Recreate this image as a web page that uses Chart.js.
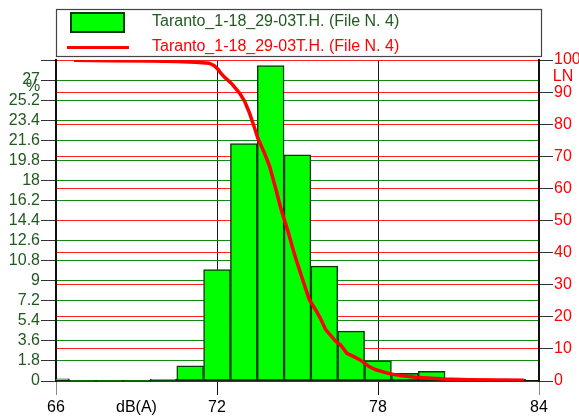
<!DOCTYPE html>
<html>
<head>
<meta charset="utf-8">
<script src="https://cdn.jsdelivr.net/npm/chart.js@4"></script>
<style>
  html, body { margin: 0; padding: 0; background: #ffffff; }
  #wrap { width: 579px; height: 417px; }
</style>
</head>
<body>
<div id="wrap"><canvas id="chart" width="579" height="417"></canvas></div>
<script>
// Measurement run label (shared by histogram and cumulative curve)
const seriesLabel = 'Taranto_1-18_29-03T.H. (File N. 4)';

// Histogram: 1 dB classes centred on each level, share of time in %
const binLevels  = [66, 67, 68, 69, 70, 71, 72, 73, 74, 75, 76, 77, 78, 79, 80, 81, 82, 83];
const binPercent = [0.2, 0.05, 0.05, 0.05, 0.15, 1.35, 10.0, 21.3, 28.3, 20.3, 10.3, 4.47, 1.8, 0.68, 0.87, 0.05, 0.15, 0.18];

// Cumulative exceedance curve LN (% of time above level)
const lnLevels  = [66.67, 68.0, 69.5, 70.5, 71.2, 71.7, 71.9, 72.05, 72.15, 72.3, 72.53, 72.84, 73.03, 73.21, 73.4, 73.52, 73.77, 73.96, 74.2, 74.39, 74.64, 74.82, 74.95, 75.19, 75.44, 75.69, 75.88, 76.05, 76.43, 76.6, 76.84, 77.1, 77.35, 77.67, 77.92, 78.42, 78.9, 79.41, 80.46, 81.39, 82.38, 83.43];
const lnPercent = [99.9, 99.8, 99.7, 99.5, 99.3, 99.0, 98.2, 97.0, 95.8, 94.5, 92.8, 89.7, 87.1, 83.5, 78.8, 75.7, 71.0, 66.9, 59.6, 53.4, 46.8, 41.4, 37.8, 31.6, 25.3, 22.0, 19.1, 16.0, 12.3, 11.3, 8.6, 7.6, 6.5, 4.5, 3.5, 2.3, 1.6, 1.2, 0.6, 0.4, 0.3, 0.2];

// Level axis ticks and their captions
const xTickValues = [66, 69, 72, 78, 84];
const xTickLabels = ['66', 'dB(A)', '72', '78', '84'];

const FONT = { family: "'Liberation Sans', Arial, sans-serif", size: 16 };
const DARK_GREEN = '#1f5a1f';

// Boxed two-row legend plus the unit captions of both value axes
const boxedLegend = {
  id: 'boxedLegend',
  afterDraw(chart) {
    const ctx = chart.ctx;
    const area = chart.chartArea;
    const bars = chart.data.datasets[0];
    const line = chart.data.datasets[1];
    ctx.save();
    ctx.strokeStyle = '#444';
    ctx.lineWidth = 1.2;
    ctx.strokeRect(area.left + 0.5, 9.5, area.right - area.left + 2, 47);

    ctx.fillStyle = bars.backgroundColor;
    ctx.fillRect(70, 12, 55, 21);
    ctx.strokeStyle = bars.borderColor;
    ctx.lineWidth = 2;
    ctx.strokeRect(71, 13, 53, 19);

    ctx.strokeStyle = line.borderColor;
    ctx.lineWidth = 3;
    ctx.beginPath();
    ctx.moveTo(67, 47.5);
    ctx.lineTo(129, 47.5);
    ctx.stroke();

    ctx.font = FONT.size + 'px ' + FONT.family;
    ctx.textBaseline = 'middle';
    ctx.textAlign = 'left';
    ctx.fillStyle = DARK_GREEN;
    ctx.fillText(bars.label, 152, 22);
    ctx.fillStyle = '#ff0000';
    ctx.fillText(line.label, 152, 47);

    ctx.textAlign = 'center';
    ctx.fillStyle = DARK_GREEN;
    ctx.fillText('%', 33, 87);
    ctx.fillStyle = '#ff0000';
    ctx.fillText('LN', 563, 77);
    ctx.restore();
  }
};

new Chart(document.getElementById('chart'), {
  type: 'bar',
  data: {
    datasets: [
      {
        type: 'bar',
        label: seriesLabel,
        data: binLevels.map((lv, i) => ({ x: lv, y: binPercent[i] })),
        backgroundColor: '#00ff00',
        borderColor: '#0d3a0d',
        borderWidth: 1.5,
        borderSkipped: false,
        barPercentage: 1,
        categoryPercentage: 1,
        xAxisID: 'x',
        yAxisID: 'y',
        clip: { left: 0, top: 5, right: 5, bottom: 5 },
        order: 2
      },
      {
        type: 'line',
        label: seriesLabel,
        data: lnLevels.map((lv, i) => ({ x: lv, y: lnPercent[i] })),
        borderColor: '#ff0000',
        backgroundColor: '#ff0000',
        borderWidth: 3.5,
        pointRadius: 0,
        tension: 0,
        fill: false,
        xAxisID: 'x',
        yAxisID: 'y2',
        order: 1
      }
    ]
  },
  options: {
    responsive: false,
    animation: false,
    devicePixelRatio: 1,
    layout: { padding: { top: 60, left: 0, right: 0, bottom: 0 } },
    plugins: {
      legend: { display: false },
      tooltip: { enabled: false }
    },
    scales: {
      x: {
        type: 'linear',
        min: 66,
        max: 84,
        offset: false,
        afterBuildTicks: s => { s.ticks = xTickValues.map(v => ({ value: v })); },
        afterFit: s => { s.height = 36; s.paddingLeft = 0; s.paddingRight = 0; },
        grid: {
          offset: false,
          lineWidth: 1,
          color: c => (c.tick && (c.tick.value === 72 || c.tick.value === 78)) ? '#1a1a1a' : 'rgba(0,0,0,0)',
          tickLength: 14,
          tickColor: c => {
            const v = c.tick ? c.tick.value : null;
            if (v === 69) return 'rgba(0,0,0,0)';
            return (v === 66 || v === 84) ? '#8a8a8a' : '#111111';
          }
        },
        border: { display: true, color: '#111111', width: 1.5 },
        ticks: {
          color: '#000000',
          font: FONT,
          padding: 3,
          maxRotation: 0,
          autoSkip: false,
          callback: (v, i) => xTickLabels[i]
        }
      },
      y: {
        type: 'linear',
        position: 'left',
        min: 0,
        max: 28.8,
        afterFit: s => { s.width = 56; s.paddingTop = 0; s.paddingBottom = 0; },
        grid: { color: '#108a10', lineWidth: 1, tickLength: 15, tickColor: '#333333' },
        border: { display: true, color: '#111111', width: 2 },
        ticks: {
          stepSize: 1.8,
          autoSkip: false,
          color: DARK_GREEN,
          font: FONT,
          padding: 1,
          callback: v => (v > 28.7 ? '' : String(Number(v.toFixed(1))))
        }
      },
      y2: {
        type: 'linear',
        position: 'right',
        min: 0,
        max: 100,
        afterFit: s => { s.width = 40; s.paddingTop = 0; s.paddingBottom = 0; },
        grid: { color: '#ff2020', lineWidth: 1, tickLength: 14, tickColor: '#333333' },
        border: { display: true, color: '#111111', width: 2 },
        ticks: {
          stepSize: 10,
          autoSkip: false,
          color: '#ff0000',
          font: FONT,
          padding: 1
        }
      }
    }
  },
  plugins: [boxedLegend]
});
</script>
</body>
</html>
